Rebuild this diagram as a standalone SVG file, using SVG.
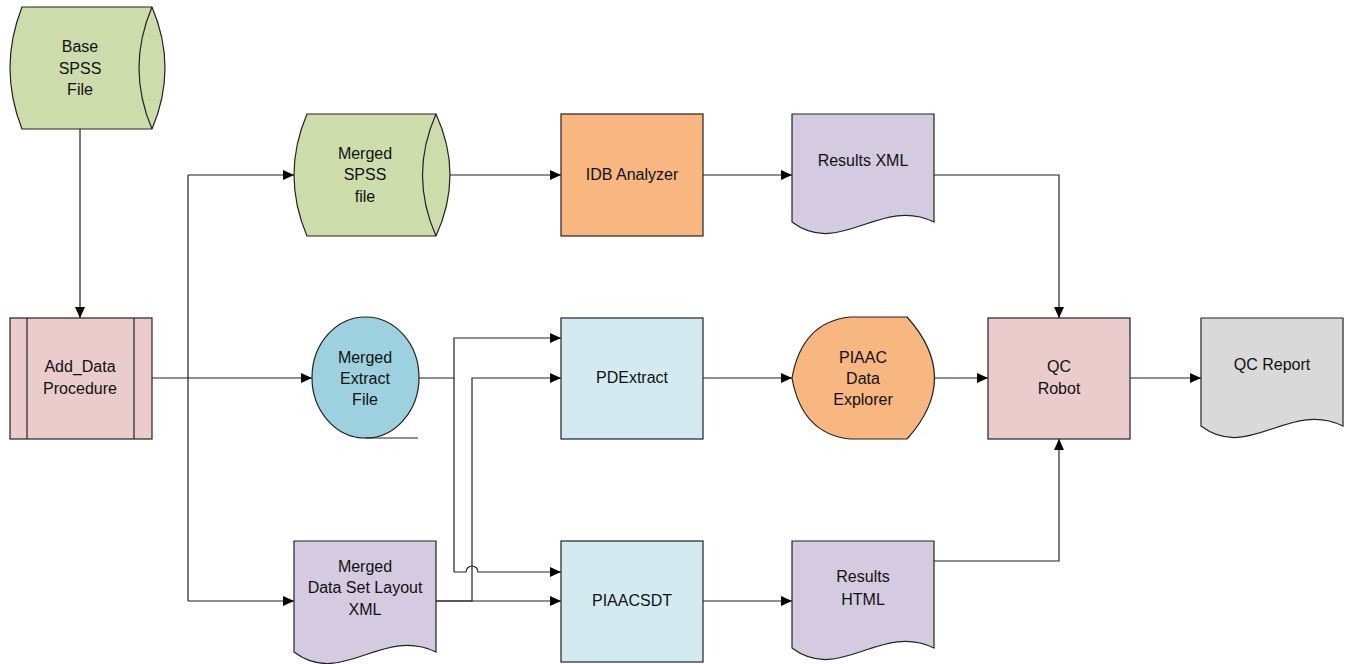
<svg xmlns="http://www.w3.org/2000/svg" width="1352" height="664" viewBox="0 0 1352 664">
<defs>
<marker id="arr" markerUnits="userSpaceOnUse" markerWidth="11" markerHeight="10" refX="11" refY="5" orient="auto">
<path d="M0,0 L11,5 L0,10 Z" fill="#000"/>
</marker>
<style>
.s{stroke:#222;stroke-width:1.2}
.g{fill:#CDDCAB}
.p{fill:#EBCCCC}
.b{fill:#9DD1DF}
.c{fill:#D3EBF0}
.o{fill:#F8B680}
.v{fill:#D4CBE0}
.y{fill:#D9D9D9}
.t{font-family:"Liberation Sans",Arial,sans-serif;font-size:16px;fill:#111;text-anchor:middle}
.l{fill:none;stroke:#222;stroke-width:1.2}
</style>
</defs>
<rect width="1352" height="664" fill="#fff"/>

<g id="connectors">
<path class="l" d="M80,129 V318" marker-end="url(#arr)"/>
<path class="l" d="M152,378 H312" marker-end="url(#arr)"/>
<path class="l" d="M188,175 V601"/>
<path class="l" d="M188,175 H294" marker-end="url(#arr)"/>
<path class="l" d="M188,601 H294" marker-end="url(#arr)"/>
<path class="l" d="M450,175 H561" marker-end="url(#arr)"/>
<path class="l" d="M703,175 H792" marker-end="url(#arr)"/>
<path class="l" d="M934,175 H1059 V318" marker-end="url(#arr)"/>
<path class="l" d="M419,378 H454"/>
<path class="l" d="M454,572 V338 H561" marker-end="url(#arr)"/>
<path class="l" d="M454,572 H466 A6,6 0 0 1 478,572 H561" marker-end="url(#arr)"/>
<path class="l" d="M436,601 H472 V378 H561" marker-end="url(#arr)"/>
<path class="l" d="M436,601 H561" marker-end="url(#arr)"/>
<path class="l" d="M703,378 H792" marker-end="url(#arr)"/>
<path class="l" d="M935,378 H988" marker-end="url(#arr)"/>
<path class="l" d="M703,601 H792" marker-end="url(#arr)"/>
<path class="l" d="M934,561 H1059 V439" marker-end="url(#arr)"/>
<path class="l" d="M1130,378 H1201" marker-end="url(#arr)"/>
</g>

<g id="base-spss">
<path class="g s" d="M22,7 H152 Q178,68 152,129 H22 Q-2,68 22,7 Z"/>
<path class="s" fill="none" d="M152,7 Q126,68 152,129"/>
<text class="t" x="80" y="52">Base</text>
<text class="t" x="80" y="74">SPSS</text>
<text class="t" x="80" y="95">File</text>
</g>

<g id="add-data">
<rect class="p s" x="10" y="318" width="142" height="121"/>
<path class="s" d="M27,318 V439 M134,318 V439"/>
<text class="t" x="80" y="372">Add_Data</text>
<text class="t" x="80" y="394">Procedure</text>
</g>

<g id="merged-spss">
<path class="g s" d="M307,114 H436 Q464,175 436,236 H307 Q281,175 307,114 Z"/>
<path class="s" fill="none" d="M436,114 Q409,175 436,236"/>
<text class="t" x="365" y="159">Merged</text>
<text class="t" x="365" y="180">SPSS</text>
<text class="t" x="365" y="202">file</text>
</g>

<g id="merged-extract">
<ellipse class="b s" cx="365.5" cy="377.5" rx="53.5" ry="60.5"/>
<path class="s" d="M365,438 H418"/>
<text class="t" x="365" y="363">Merged</text>
<text class="t" x="365" y="384">Extract</text>
<text class="t" x="365" y="405">File</text>
</g>

<g id="merged-layout">
<path class="v s" d="M294,541 H436 V652 C382,626 342,688 294,652 Z"/>
<text class="t" x="365" y="572">Merged</text>
<text class="t" x="365" y="593">Data Set Layout</text>
<text class="t" x="365" y="615">XML</text>
</g>

<g id="idb-analyzer">
<rect class="o s" x="561" y="114" width="142" height="122"/>
<text class="t" x="632" y="180">IDB Analyzer</text>
</g>

<g id="pdextract">
<rect class="c s" x="561" y="318" width="142" height="121"/>
<text class="t" x="632" y="383">PDExtract</text>
</g>

<g id="piaacsdt">
<rect class="c s" x="561" y="541" width="142" height="121"/>
<text class="t" x="632" y="606">PIAACSDT</text>
</g>

<g id="results-xml">
<path class="v s" d="M792,114 H934 V222 C880,196 840,258 792,222 Z"/>
<text class="t" x="863" y="166">Results XML</text>
</g>

<g id="piaac-explorer">
<path class="o s" d="M792,378 Q802,322 850,317 H907 Q962,378 907,439 H850 Q802,434 792,378 Z"/>
<text class="t" x="863" y="363">PIAAC</text>
<text class="t" x="863" y="384">Data</text>
<text class="t" x="863" y="405">Explorer</text>
</g>

<g id="results-html">
<path class="v s" d="M792,541 H934 V648 C880,622 840,684 792,648 Z"/>
<text class="t" x="863" y="582">Results</text>
<text class="t" x="863" y="605">HTML</text>
</g>

<g id="qc-report">
<path class="y s" d="M1201,318 H1343 V426 C1289,400 1249,462 1201,426 Z"/>
<text class="t" x="1272" y="370">QC Report</text>
</g>

<g id="qc-robot">
<rect class="p s" x="988" y="318" width="142" height="121"/>
<text class="t" x="1059" y="372">QC</text>
<text class="t" x="1059" y="394">Robot</text>
</g>
</svg>
